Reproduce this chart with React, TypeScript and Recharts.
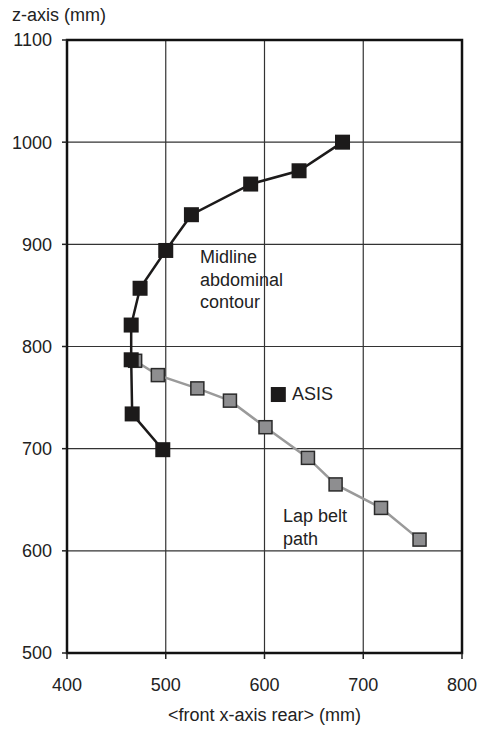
import React from 'react';
import { ScatterChart, Scatter, XAxis, YAxis, CartesianGrid, ReferenceArea, Label } from 'recharts';

const xTicks = [400, 500, 600, 700, 800];
const zTicks = [500, 600, 700, 800, 900, 1000, 1100];

const midlineX = [497, 466, 465, 465, 474, 500, 526, 586, 635, 679];
const midlineZ = [699, 734, 787, 821, 857, 894, 929, 959, 972, 1000];

const lapBeltX = [469, 492, 532, 565, 601, 644, 672, 718, 757];
const lapBeltZ = [786, 772, 759, 747, 721, 691, 665, 642, 611];

const asisX = [614];
const asisZ = [753];

const toPoints = (xs: number[], zs: number[]) => xs.map((x, i) => ({ x, z: zs[i] }));

const midline = toPoints(midlineX, midlineZ);
const lapBelt = toPoints(lapBeltX, lapBeltZ);
const asis = toPoints(asisX, asisZ);

const FONT = '"Liberation Sans", Arial, sans-serif';

const blackSquare = (p: any) => (
  <rect x={p.cx - 7.5} y={p.cy - 7.5} width={15} height={15} fill="#1c1a1a" />
);
const graySquare = (p: any) => (
  <rect x={p.cx - 6.5} y={p.cy - 6.5} width={13} height={13} fill="#8e8e90" stroke="#2a2a2a" strokeWidth={1.5} />
);

const textStyle: React.CSSProperties = {
  position: 'absolute',
  fontFamily: FONT,
  fontSize: 18,
  color: '#222',
  lineHeight: '22.5px',
  whiteSpace: 'nowrap',
};

export default function App() {
  return (
    <div style={{ position: 'absolute', left: 0, top: 0, width: 478, height: 730, background: '#fff' }}>
      <ScatterChart width={478} height={730} margin={{ top: 40, right: 16, left: 0, bottom: 0 }}>
        <CartesianGrid stroke="#333" strokeWidth={1.2} />
        <XAxis
          type="number"
          dataKey="x"
          domain={[400, 800]}
          ticks={xTicks}
          interval={0}
          height={77}
          axisLine={false}
          tickLine={{ stroke: '#222', strokeWidth: 1.5 }}
          tickSize={6}
          tickMargin={19}
          tick={{ fill: '#222', fontSize: 18, fontFamily: FONT }}
        >
          <Label
            value="<front x-axis rear> (mm)"
            position="insideBottom"
            offset={9}
            style={{ fill: '#222', fontSize: 18, fontFamily: FONT }}
          />
        </XAxis>
        <YAxis
          type="number"
          dataKey="z"
          domain={[500, 1100]}
          ticks={zTicks}
          interval={0}
          width={67}
          axisLine={false}
          tickLine={{ stroke: '#222', strokeWidth: 1.5 }}
          tickSize={5}
          tickMargin={10}
          tick={{ fill: '#222', fontSize: 18, fontFamily: FONT }}
        />
        <ReferenceArea x1={400} x2={800} y1={500} y2={1100} fill="none" stroke="#111" strokeWidth={2.5} />
        <Scatter
          data={lapBelt}
          line={{ stroke: '#9a9a9a', strokeWidth: 2.5 }}
          lineType="joint"
          shape={graySquare}
          isAnimationActive={false}
        />
        <Scatter
          data={midline}
          line={{ stroke: '#1c1a1a', strokeWidth: 2.5 }}
          lineType="joint"
          shape={blackSquare}
          isAnimationActive={false}
        />
        <Scatter data={asis} shape={blackSquare} isAnimationActive={false} />
      </ScatterChart>
      <div style={{ ...textStyle, left: 12, top: 4 }}>z-axis (mm)</div>
      <div style={{ ...textStyle, left: 200, top: 246 }}>
        Midline
        <br />
        abdominal
        <br />
        contour
      </div>
      <div style={{ ...textStyle, left: 292, top: 383 }}>ASIS</div>
      <div style={{ ...textStyle, left: 283, top: 505 }}>
        Lap belt
        <br />
        path
      </div>
    </div>
  );
}
